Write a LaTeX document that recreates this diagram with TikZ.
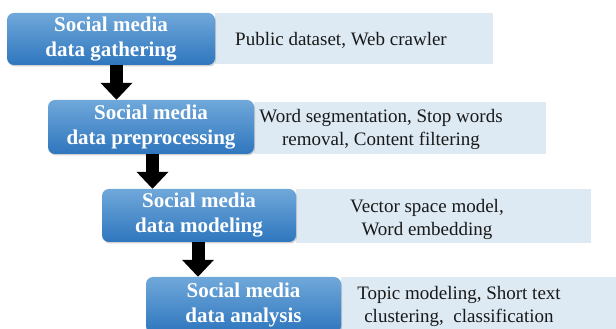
\documentclass[tikz,border=0pt]{standalone}
\usepackage{fontspec}
\setmainfont{Liberation Serif}
\usetikzlibrary{arrows.meta,shadows,calc}
\definecolor{bluetop}{RGB}{112,168,218}
\definecolor{bluebot}{RGB}{46,118,190}
\definecolor{lightbg}{RGB}{221,234,244}
\definecolor{txt}{RGB}{25,25,25}
\tikzset{
  stagebox/.style={rounded corners=7pt, top color=bluetop, bottom color=bluebot,
    draw=none, text=white, font=\fontsize{21}{25}\selectfont\bfseries, align=center,
    inner sep=0pt, drop shadow={shadow xshift=1pt, shadow yshift=-1.5pt, opacity=0.35, fill=gray}},
  lightbox/.style={fill=lightbg, draw=none, inner sep=0pt},
  lighttext/.style={text=txt, font=\fontsize{19}{23}\selectfont, align=center, inner sep=0pt},
  flowarrow/.style={draw=black, line width=13pt, -{Triangle[width=31pt,length=17pt]}}
}
\begin{document}
\begin{tikzpicture}[x=1pt,y=1pt]
\useasboundingbox (0,0) rectangle (616,329);
\fill[white] (0,0) rectangle (616,329);
\begin{scope}
\clip (0,0) rectangle (616,329);
% light boxes
\node[lightbox, minimum width=278pt, minimum height=51pt, anchor=south west] (l1) at (215,265) {};
\node[lightbox, minimum width=292pt, minimum height=52pt, anchor=south west] (l2) at (254,175) {};
\node[lightbox, minimum width=295pt, minimum height=54pt, anchor=south west] (l3) at (296,86) {};
\node[lightbox, minimum width=280pt, minimum height=54pt, anchor=south west] (l4) at (341,-2) {};
% blue boxes
\node[stagebox, minimum width=208pt, minimum height=52pt] (b1) at (111,290) {Social media\\data gathering};
\node[stagebox, minimum width=206pt, minimum height=54pt] (b2) at (151,202) {Social media\\data preprocessing};
\node[stagebox, minimum width=194pt, minimum height=53pt] (b3) at (199,113.5) {Social media\\data modeling};
\node[stagebox, minimum width=195pt, minimum height=56pt] (b4) at (243.5,24) {Social media\\data analysis};
% texts
\node[lighttext] (t1) at (341,289) {Public dataset, Web crawler};
\node[lighttext] (t2) at (381,200) {Word segmentation, Stop words\\removal, Content filtering};
\node[lighttext] (t3) at (427,110) {Vector space model,\\Word embedding};
\node[lighttext] (t4) at (459,23) {Topic modeling, Short text\\clustering,\ \ classification};
% arrows
\draw[flowarrow] (b1.south -| 116.5,0) -- (b2.north -| 116.5,0);
\draw[flowarrow] (b2.south -| 152.5,0) -- (b3.north -| 152.5,0);
\draw[flowarrow] (b3.south -| 198,0) -- (b4.north -| 198,0);
\end{scope}
\end{tikzpicture}
\end{document}
